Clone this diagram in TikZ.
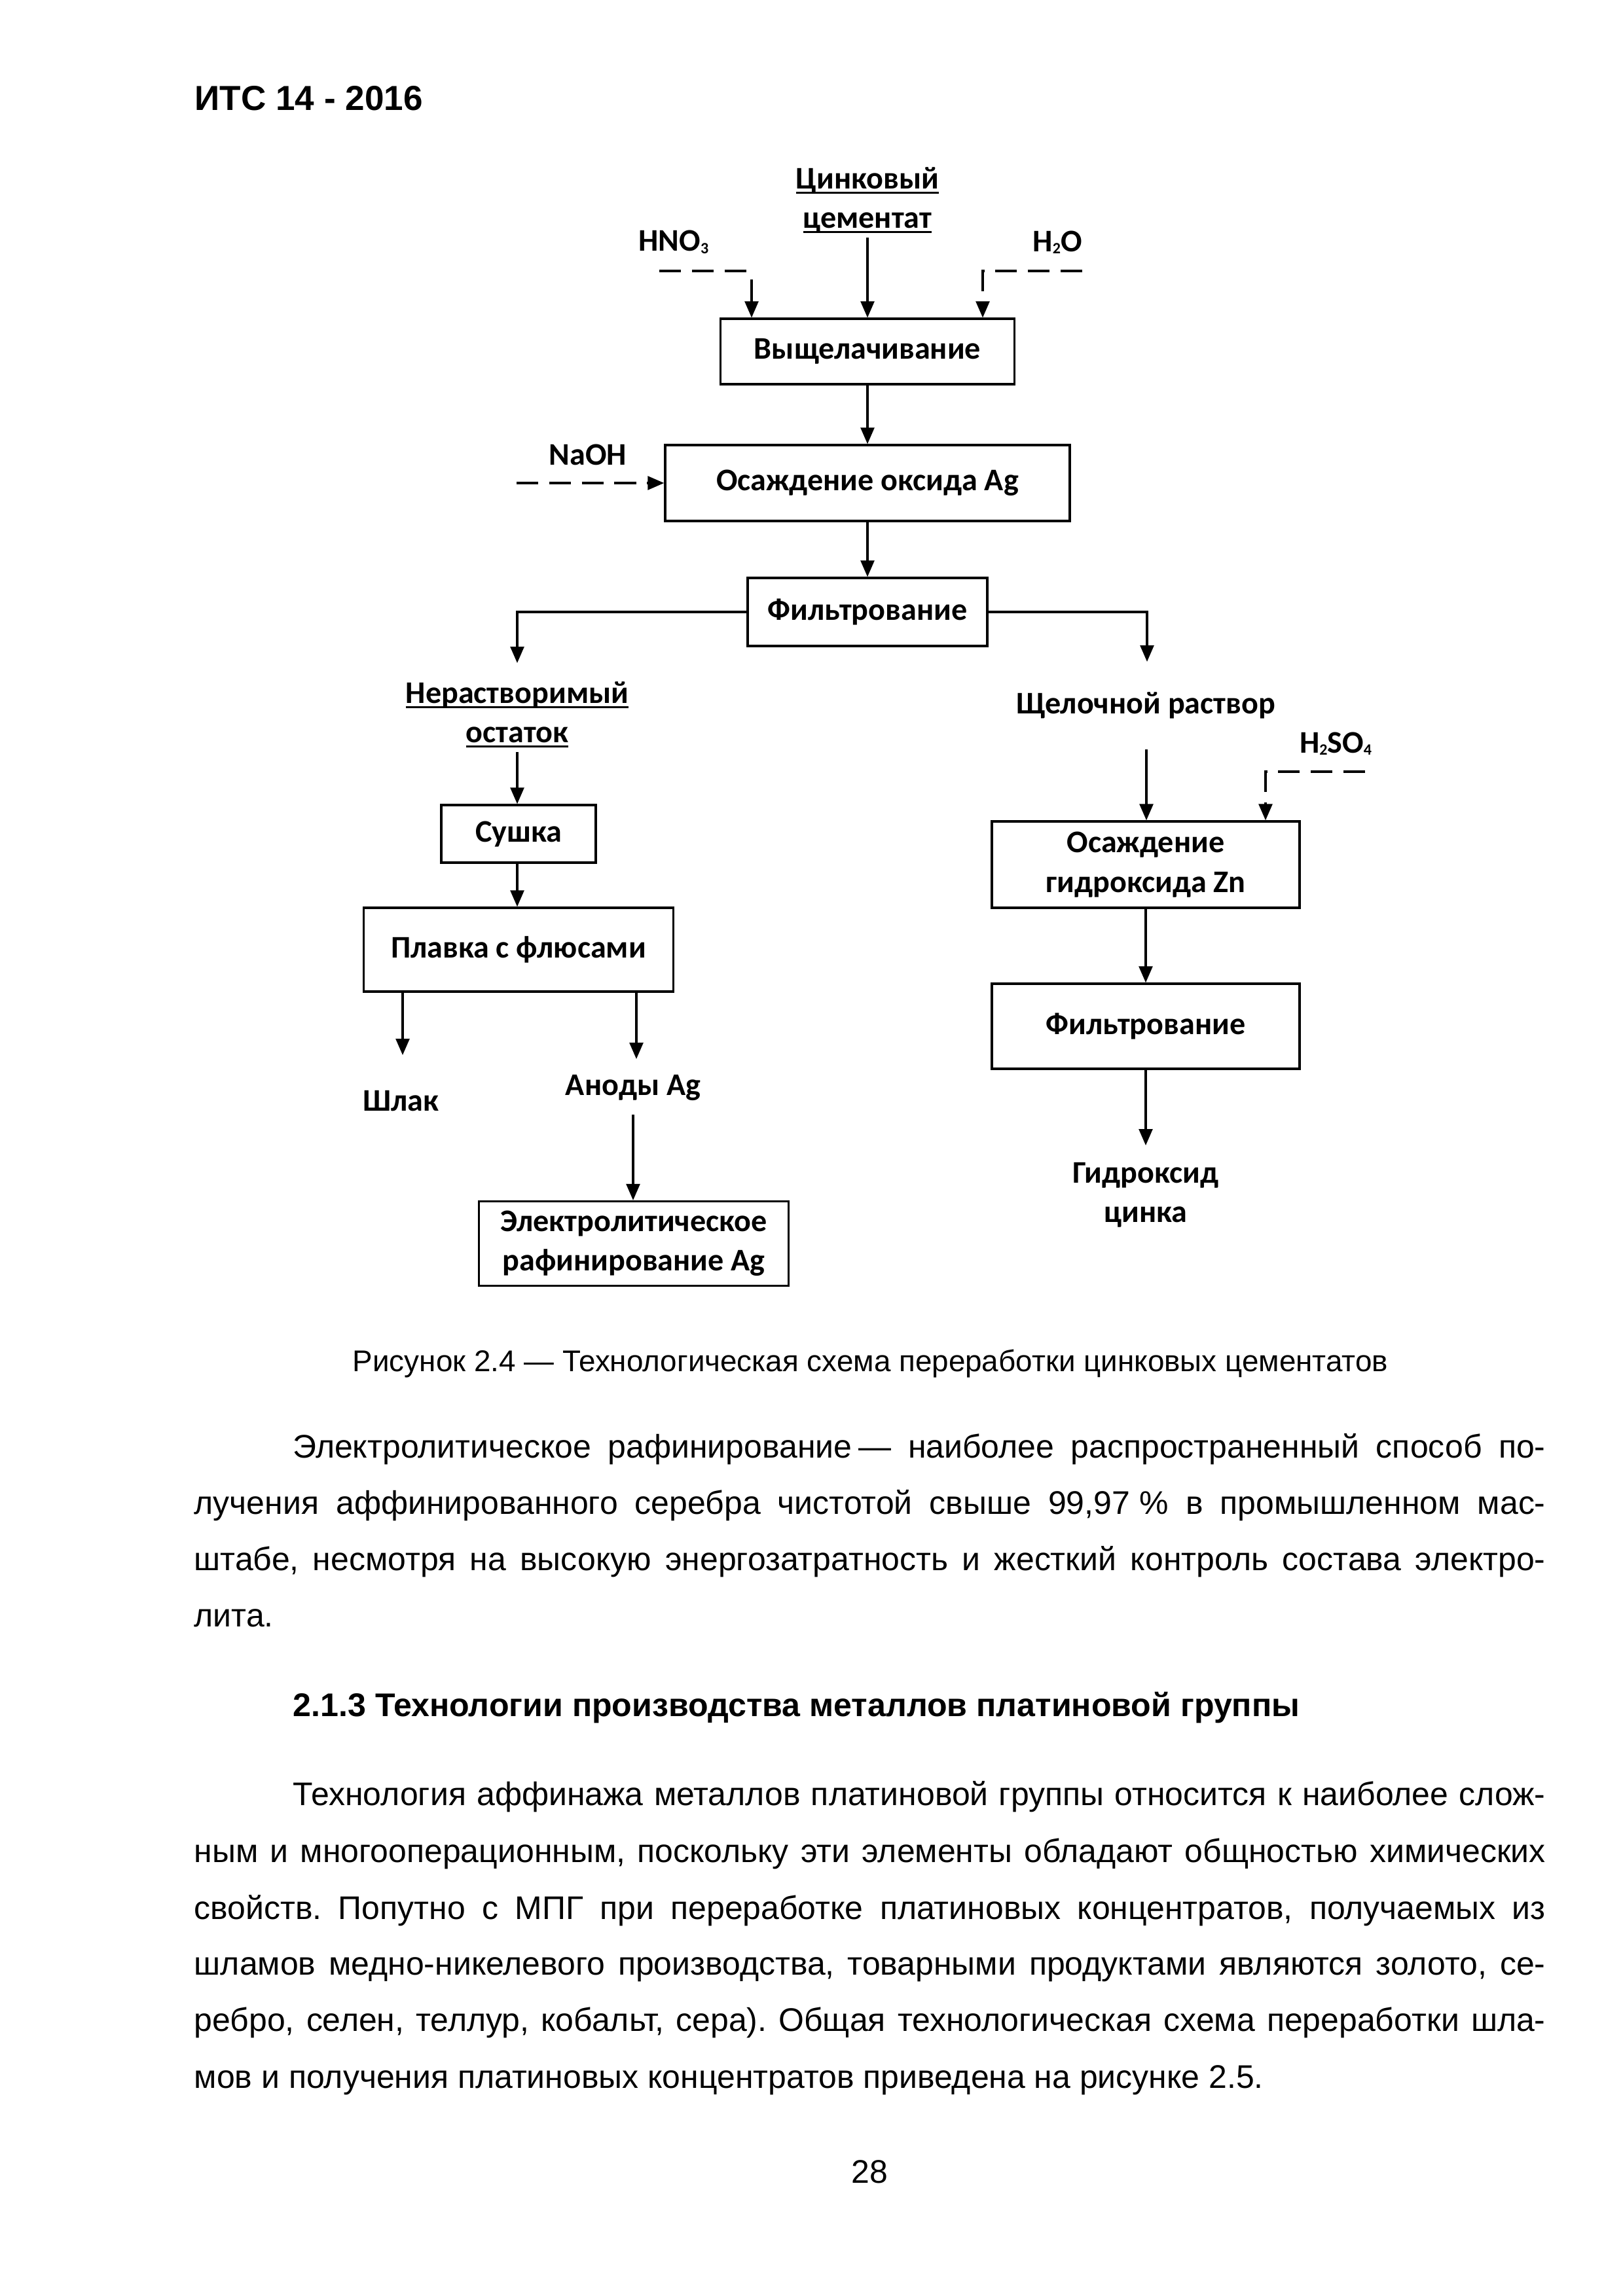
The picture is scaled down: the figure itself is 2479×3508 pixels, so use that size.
\documentclass[tikz,border=0pt]{standalone}
\usepackage{fontspec}
\setmainfont{Liberation Sans}
\newfontfamily\dfam{Carlito}
\usetikzlibrary{arrows.meta}
\newlength\calw
\newcommand\dfont{\dfam\bfseries\fontsize{\dsz pt}{14.5pt}\selectfont}
\newcommand\bodyf{\fontsize{\bsz pt}{20pt}\selectfont}
\newcommand\capf{\fontsize{\csz pt}{20pt}\selectfont}
\newcommand\headf{\bfseries\fontsize{\hdsz pt}{20pt}\selectfont}
\newcommand\headgf{\bfseries\fontsize{\hgsz pt}{20pt}\selectfont}
\newcommand\myul[1]{\setbox0\hbox{#1}\rlap{\rule[-1.8pt]{\wd0}{0.7pt}}\box0}
\newcommand\csub[1]{\raisebox{-0.15ex}{\scalebox{0.5}{#1}}}
\def\pxu{0.2409pt}
\begin{document}
\frenchspacing
\settowidth\calw{\dfam\bfseries\fontsize{10pt}{12pt}\selectfont Выщелачивание}%
\pgfmathsetmacro\dsz{10*83.4/\calw}%
\settowidth\calw{\fontsize{10pt}{12pt}\selectfont мов и получения платиновых концентратов приведена на рисунке 2.5.}%
\pgfmathsetmacro\bsz{10*393.4/\calw}%
\settowidth\calw{\fontsize{10pt}{12pt}\selectfont Рисунок 2.4 — Технологическая схема переработки цинковых цементатов}%
\pgfmathsetmacro\csz{10*380.9/\calw}%
\settowidth\calw{\bfseries\fontsize{10pt}{12pt}\selectfont ИТС 14 - 2016}%
\pgfmathsetmacro\hdsz{10*83.8/\calw}%
\settowidth\calw{\bfseries\fontsize{10pt}{12pt}\selectfont 2.1.3 Технологии производства металлов платиновой группы}%
\pgfmathsetmacro\hgsz{10*370.3/\calw}%
\begin{tikzpicture}[x=0.2409pt,y=-0.2409pt,
  box/.style={draw, line width=0.8pt, inner sep=0pt, align=center, font=\dfont},
  lbl/.style={inner sep=1pt, align=center, font=\dfont},
  arr/.style={line width=0.75pt, -{Triangle[length=6pt,width=5pt]}},
  darr/.style={line width=0.75pt, dash pattern=on 8pt off 4pt, -{Triangle[length=6pt,width=5pt]}},
  dsh/.style={line width=0.75pt, dash pattern=on 8pt off 4pt},
  txt/.style={inner sep=0pt, anchor=base west, font=\bodyf}]
\fill[white] (0,0) rectangle (2479,3508);
\useasboundingbox (0,0) rectangle (2479,3508);

% header
\node[txt, font=\headf] (hdr) at (297,168) {ИТС 14 - 2016};

% boxes
\node[box, minimum width={449*\pxu}, minimum height={100*\pxu}] (b1) at (1325,537) {Выщелачивание};
\node[box, minimum width={618*\pxu}, minimum height={116*\pxu}] (b2) at (1325,738) {Осаждение оксида Ag};
\node[box, minimum width={366*\pxu}, minimum height={104*\pxu}] (b3) at (1325,935) {Фильтрование};
\node[box, minimum width={236*\pxu}, minimum height={88*\pxu}] (b4) at (792,1274) {Сушка};
\node[box, minimum width={473*\pxu}, minimum height={128*\pxu}] (b5) at (792,1451) {Плавка с флюсами};
\node[box, minimum width={473*\pxu}, minimum height={129*\pxu}] (b6) at (968,1900) {Электролитическое\\рафинирование Ag};
\node[box, minimum width={470*\pxu}, minimum height={132*\pxu}] (b7) at (1750,1321) {Осаждение\\гидроксида Zn};
\node[box, minimum width={470*\pxu}, minimum height={130*\pxu}] (b8) at (1750,1568) {Фильтрование};

% labels
\node[lbl] (zinc) at (1325,306) {\myul{Цинковый}\\\myul{цементат}};
\node[lbl] (hno) at (1029,370) {HNO\csub{3}};
\node[lbl] (hto) at (1615,370) {H\csub{2}O};
\node[lbl] (naoh) at (898,695) {NaOH};
\node[lbl] (insol) at (790,1092) {\myul{Нерастворимый}\\\myul{остаток}};
\node[lbl] (alk) at (1750,1078) {Щелочной раствор};
\node[lbl] (hso) at (2040,1136) {H\csub{2}SO\csub{4}};
\node[lbl] (slag) at (612,1682) {Шлак};
\node[lbl] (anod) at (967,1662) {Аноды Ag};
\node[lbl] (znoh) at (1750,1826) {Гидроксид\\цинка};

% coordinates
\coordinate (zs) at (1325,363);
\coordinate (h1) at (1007,414);
\coordinate (h2) at (1146,414);
\coordinate (h3) at (1148,427);
\coordinate (w1) at (1653,414);
\coordinate (w3) at (1501,414);
\coordinate (n1) at (789,738);
\coordinate (lt) at (790,1013);
\coordinate (rt) at (1752,1011);
\coordinate (is) at (790,1149);
\coordinate (sl) at (615,1612);
\coordinate (an) at (972,1618);
\coordinate (an2) at (967,1703);
\coordinate (al) at (1751,1145);
\coordinate (s1) at (2085,1179);
\coordinate (s2) at (1933,1179);
\coordinate (zn) at (1750,1750);

% connectors
\draw[arr] (zs) -- (zs |- b1.north);
\draw[dsh] (h1) -- (h2);
\draw[arr] (h3) -- (h3 |- b1.north);
\draw[darr] (w1) -- (w3) -- (w3 |- b1.north);
\draw[arr] (b1) -- (b2);
\draw[darr] (n1) -- (b2.west);
\draw[arr] (b2) -- (b3);
\draw[arr] (b3.west) -| (lt);
\draw[arr] (b3.east) -| (rt);
\draw[arr] (is) -- (is |- b4.north);
\draw[arr] (b4.south -| is) -- (is |- b5.north);
\draw[arr] (b5.south -| sl) -- (sl);
\draw[arr] (b5.south -| an) -- (an);
\draw[arr] (an2) -- (an2 |- b6.north);
\draw[arr] (al) -- (al |- b7.north);
\draw[darr] (s1) -- (s2) -- (s2 |- b7.north);
\draw[arr] (b7) -- (b8);
\draw[arr] (b8) -- (zn);

% caption
\node[txt, font=\capf] (cap) at (538,2095) {Рисунок 2.4 — Технологическая схема переработки цинковых цементатов};

% paragraph 1
\node[txt] (p1a) at (447,2227) {\makebox[460.8pt][s]{Электролитическое рафинирование\kern2.5pt— наиболее распространенный способ по-}};
\node[txt] (p1b) at (296,2313) {\makebox[497.2pt][s]{лучения аффинированного серебра чистотой свыше 99,97\kern3.5pt\% в промышленном мас-}};
\node[txt] (p1c) at (296,2399) {\makebox[497.2pt][s]{штабе, несмотря на высокую энергозатратность и жесткий контроль состава электро-}};
\node[txt] (p1d) at (296,2485) {лита.};

% heading
\node[txt, font=\headgf] (hd) at (447,2622) {2.1.3 Технологии производства металлов платиновой группы};

% paragraph 2
\node[txt] (p2a) at (447,2758) {\makebox[460.8pt][s]{Технология аффинажа металлов платиновой группы относится к наиболее слож-}};
\node[txt] (p2b) at (296,2845) {\makebox[497.2pt][s]{ным и многооперационным, поскольку эти элементы обладают общностью химических}};
\node[txt] (p2c) at (296,2932) {\makebox[497.2pt][s]{свойств. Попутно с МПГ при переработке платиновых концентратов, получаемых из}};
\node[txt] (p2d) at (296,3017) {\makebox[497.2pt][s]{шламов медно-никелевого производства, товарными продуктами являются золото, се-}};
\node[txt] (p2e) at (296,3103) {\makebox[497.2pt][s]{ребро, селен, теллур, кобальт, сера). Общая технологическая схема переработки шла-}};
\node[txt] (p2f) at (296,3190) {мов и получения платиновых концентратов приведена на рисунке 2.5.};

% page number
\node[inner sep=0pt, anchor=base, font=\bodyf] (pg) at (1328,3335) {28};
\end{tikzpicture}
\end{document}
